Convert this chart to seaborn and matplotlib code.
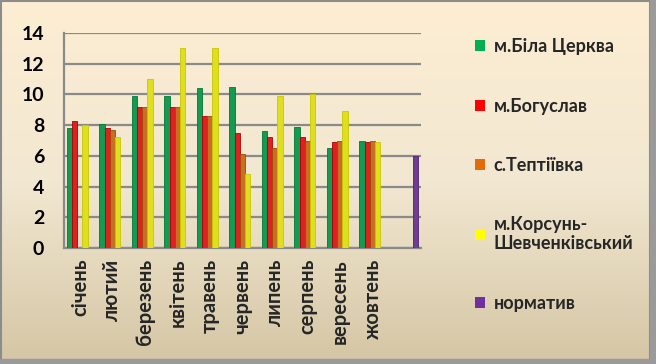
import numpy as np
import pandas as pd
import matplotlib
matplotlib.use("Agg")
import matplotlib.pyplot as plt
import seaborn as sns
from matplotlib.patches import Patch, Rectangle
from matplotlib.colors import LinearSegmentedColormap

# ---- data ----
months = ["січень", "лютий", "березень", "квітень", "травень", "червень",
          "липень", "серпень", "вересень", "жовтень"]
norm_category = " "
categories = months + [norm_category]

series_names = ["м.Біла Церква", "м.Богуслав", "с.Тептіївка",
                "м.Корсунь-\nШевченківський", "норматив"]
bila_tserkva = [7.8, 8.1, 9.9, 9.9, 10.4, 10.5, 7.6, 7.9, 6.5, 7.0]
bohuslav     = [8.3, 7.8, 9.2, 9.2, 8.6, 7.5, 7.2, 7.2, 6.9, 6.9]
teptiivka    = [0.0, 7.7, 9.2, 9.2, 8.6, 6.1, 6.5, 7.0, 7.0, 7.0]
korsun       = [8.0, 7.2, 11.0, 13.0, 13.0, 4.8, 9.9, 10.0, 8.9, 6.9]
normatyv     = [6.0]

colors = ["#00B050", "#FF0000", "#E36C09", "#FFFF00", "#7030A0"]
edge_colors = ["#007A38", "#B00000", "#A04A05", "#C8C800", "#4E1F72"]

rows = []
for name, vals in zip(series_names[:4], [bila_tserkva, bohuslav, teptiivka, korsun]):
    for m, v in zip(months, vals):
        if v > 0:
            rows.append({"month": m, "series": name, "value": v})
rows.append({"month": norm_category, "series": series_names[4], "value": normatyv[0]})
df = pd.DataFrame(rows)

# ---- figure ----
sns.set_style("white")
plt.rcParams["font.family"] = ["Lato", "Noto Sans", "DejaVu Sans"]

fig = plt.figure(figsize=(6.56, 3.64), dpi=100)

# background gradient
bg = fig.add_axes([0, 0, 1, 1], zorder=-10)
grad = np.linspace(0, 1, 256).reshape(-1, 1)
cmap = LinearSegmentedColormap.from_list("bg", ["#FDEED3", "#F2E7D1", "#D4C6A4"])
bg.imshow(grad, aspect="auto", cmap=cmap, extent=[0, 1, 0, 1])
bg.set_xlim(0, 1); bg.set_ylim(0, 1)
bg.axis("off")
bg.add_patch(Rectangle((0.002, 0.006), 0.989, 0.99, fill=False, edgecolor="#8C8C8C",
                       linewidth=1.5, transform=bg.transAxes))
bg.add_patch(Rectangle((0.991, 0.0), 0.009, 1.0, color="#9A9A9A", transform=bg.transAxes))
bg.add_patch(Rectangle((0.0, 0.0), 1.0, 0.014, color="#9A9A9A", transform=bg.transAxes))

ax = fig.add_axes([0.097, 0.319, 0.545, 0.590])
ax.set_facecolor("none")

sns.barplot(data=df, x="month", y="value", hue="series", order=categories,
            hue_order=series_names, palette=colors, width=0.8, ax=ax,
            legend=False, zorder=3)

for i, container in enumerate(ax.containers):
    for bar in container:
        bar.set_edgecolor(edge_colors[i])
        bar.set_linewidth(0.6)

ax.set_ylim(0, 14)
ax.set_yticks(np.arange(0, 15, 2))
ax.set_xlim(-0.5, len(categories) - 0.5)
ax.grid(axis="y", color="#8A8A8A", linewidth=1.6, zorder=0)
ax.set_axisbelow(True)
ax.set_xlabel("")
ax.set_ylabel("")

for s in ["top", "right"]:
    ax.spines[s].set_visible(False)
for s in ["left", "bottom"]:
    ax.spines[s].set_color("#8A8A8A")
    ax.spines[s].set_linewidth(1.6)

ax.tick_params(axis="y", labelsize=14, colors="#8A8A8A", labelcolor="black",
               length=4, width=1.2, pad=10)
for lab in ax.get_yticklabels():
    lab.set_fontweight("bold")

ax.set_xticks(np.arange(len(categories)))
ax.set_xticklabels(categories, rotation=90, fontsize=14.5, fontweight="bold")
ax.tick_params(axis="x", which="major", length=0, pad=8)
ax.set_xticks(np.arange(-0.5, len(categories)), minor=True)
ax.tick_params(axis="x", which="minor", length=5, width=1.2, color="#8A8A8A")

handles = [Patch(facecolor=c, edgecolor="none") for c in colors]
leg = fig.legend(handles, series_names, loc="upper left",
                 bbox_to_anchor=(0.7, 0.94), frameon=False,
                 prop={"size": 13, "weight": "bold"},
                 handlelength=0.55, handleheight=0.55, handletextpad=0.45,
                 labelspacing=2.35)
leg.get_texts()[3].set_linespacing(1.15)

fig.savefig("out.png", dpi=100)
